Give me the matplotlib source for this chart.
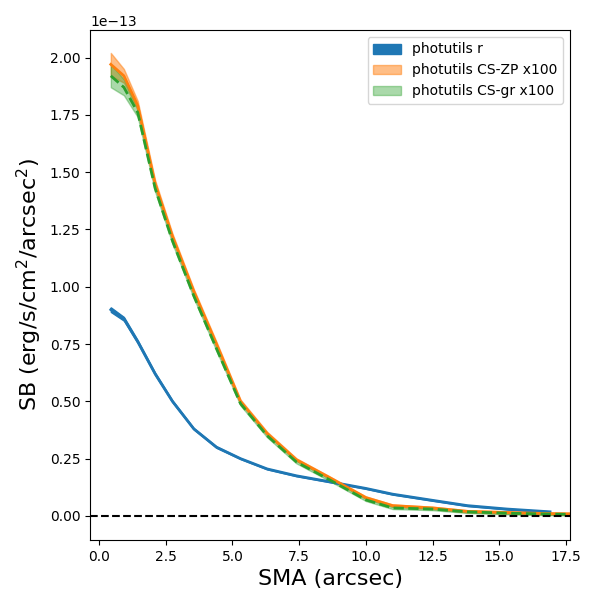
import numpy as np
import matplotlib.pyplot as plt

sma = np.array([0.44, 0.93, 1.45, 2.1, 2.75, 3.55, 4.4, 5.3, 6.3, 7.4, 8.6,
                10.0, 11.0, 12.5, 13.8, 15.3, 16.9, 18.5])
sb_r = np.array([0.90, 0.86, 0.76, 0.62, 0.50, 0.38, 0.30, 0.25, 0.205, 0.175,
                 0.15, 0.12, 0.095, 0.068, 0.045, 0.03, 0.018]) * 1e-13
sb_zp = np.array([1.97, 1.92, 1.79, 1.45, 1.22, 0.98, 0.75, 0.50, 0.36, 0.245,
                  0.17, 0.08, 0.045, 0.035, 0.02, 0.015, 0.01, 0.008]) * 1e-13
sb_gr = np.array([1.92, 1.87, 1.76, 1.43, 1.20, 0.96, 0.73, 0.49, 0.35, 0.235,
                  0.16, 0.07, 0.035, 0.03, 0.018, 0.012, 0.008, 0.006]) * 1e-13
err_r = np.array([0.01, 0.008, 0.006, 0.005, 0.004, 0.003, 0.003, 0.002, 0.002,
                  0.002, 0.002, 0.002, 0.002, 0.002, 0.002, 0.002, 0.002]) * 1e-13
err_zp = np.array([0.05, 0.03, 0.02, 0.015, 0.012, 0.01, 0.01, 0.008, 0.007,
                   0.006, 0.005, 0.005, 0.005, 0.005, 0.005, 0.005, 0.005, 0.005]) * 1e-13
err_gr = np.array([0.05, 0.035, 0.02, 0.015, 0.012, 0.01, 0.01, 0.008, 0.007,
                   0.006, 0.005, 0.005, 0.005, 0.005, 0.005, 0.005, 0.005, 0.005]) * 1e-13
xticks = [0.0, 2.5, 5.0, 7.5, 10.0, 12.5, 15.0, 17.5]

fig = plt.figure(figsize=(6, 6), dpi=100)
ax = fig.add_axes([0.15, 0.1, 0.8, 0.85])
n = len(sb_r)
ax.fill_between(sma[:n], sb_r - err_r, sb_r + err_r, color='C0', alpha=1.0,
                label='photutils r')
ax.plot(sma[:n], sb_r, color='C0', lw=2)
ax.fill_between(sma, sb_zp - err_zp, sb_zp + err_zp, color='C1', alpha=0.5,
                label='photutils CS-ZP x100')
ax.plot(sma, sb_zp, color='C1', lw=2)
ax.fill_between(sma, sb_gr - err_gr, sb_gr + err_gr, color='C2', alpha=0.4,
                label='photutils CS-gr x100')
ax.plot(sma, sb_gr, color='C2', lw=2, ls='--')
ax.axhline(0, color='k', ls='--')
ax.set_xticks(xticks)
ax.set_xlim(-0.34, 17.65)
ax.set_ylim(-0.105e-13, 2.12e-13)
ax.set_xlabel('SMA (arcsec)', fontsize=16)
ax.set_ylabel('SB (erg/s/cm$^2$/arcsec$^2$)', fontsize=16)
ax.legend(loc='upper right')
fig.savefig('out.png')
